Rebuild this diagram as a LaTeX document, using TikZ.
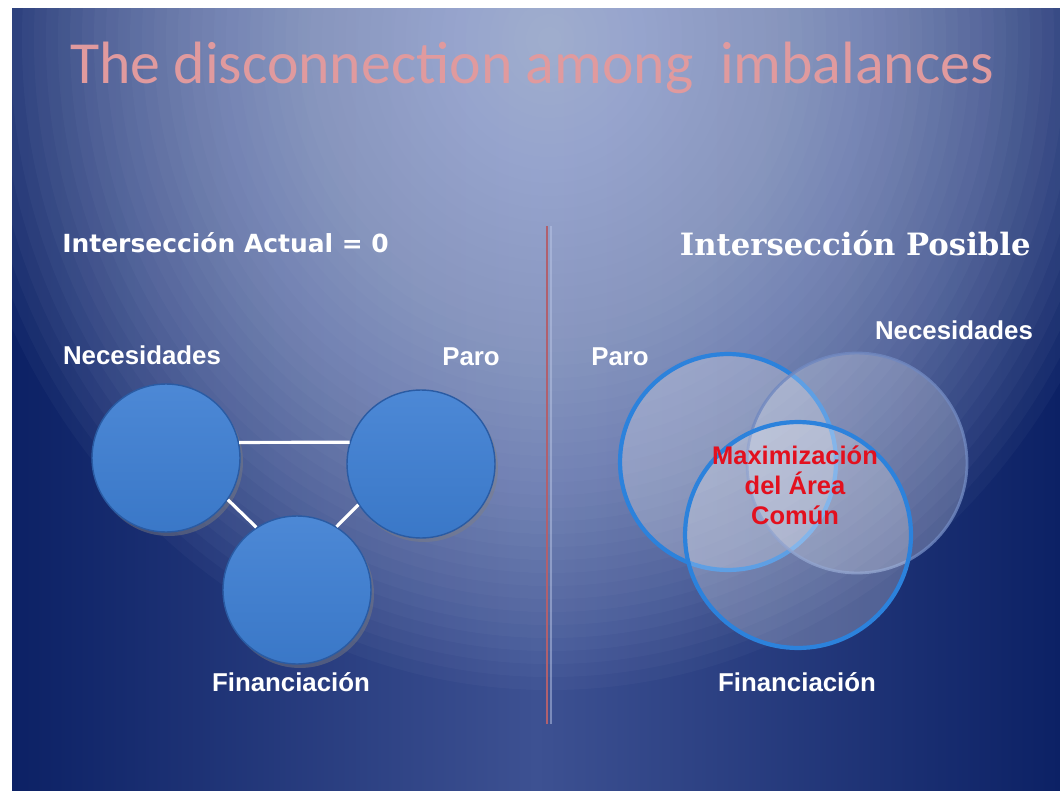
\documentclass[tikz,border=0pt]{standalone}
\usepackage{fontspec}
\setmainfont{Liberation Sans}
\newfontfamily\titlefont{Carlito}
\newfontfamily\headfont{DejaVu Sans}
\newfontfamily\slabfont{DejaVu Serif}
\usetikzlibrary{shadows}
\definecolor{bgdark}{HTML}{0C2165}
\definecolor{bgmid}{HTML}{3D5192}
\definecolor{bgglow}{HTML}{BAC6E6}
\definecolor{titlepink}{HTML}{E09A9E}
\definecolor{ballblue}{HTML}{3D7ED2}
\definecolor{ballrim}{HTML}{2A5BA3}
\definecolor{vennblue}{HTML}{2C82DC}
\definecolor{vennpale}{HTML}{7088C0}
\definecolor{divred}{HTML}{B0606E}
\definecolor{maxred}{HTML}{E3101E}
\begin{document}
\begin{tikzpicture}[x=0.02cm, y=-0.02cm,
		setlabel/.style = {text=white, font=\bfseries\fontsize{14.7}{16}\selectfont},
		ball/.style = {circle, minimum size=2.96cm, draw=ballrim, line width=0.8pt, top color=ballblue!92!white, bottom color=ballblue!95!black, drop shadow={shadow xshift=0.6mm, shadow yshift=-0.8mm, opacity=0.45}},
		link/.style = {white, line width=1.8pt},
		venn/.style = {circle, fill=white, fill opacity=0.24, line width=2.4pt}]
		\useasboundingbox (0,0) rectangle (1060,790);
		\fill[white] (0,0) rectangle (1060,790);
		\shade[left color=bgdark, right color=bgdark, middle color=bgmid] (12,9) rectangle (1060,790);
		\begin{scope}
			\clip (12,9) rectangle (1060,790);
			\foreach \r in {1,...,50}
				\fill[bgglow, opacity=0.04] (550,40) ellipse ({12*\r} and {13*\r});
		\end{scope}
		\node[font=\titlefont\fontsize{34}{40}\selectfont, text=titlepink] (title) at (532,68) {The disconnection among \ imbalances};
		\node[font=\headfont\bfseries\fontsize{14.2}{16}\selectfont, text=white, anchor=west, inner sep=0pt] (hactual) at (62,243) {Intersección Actual = 0};
		\node[font=\slabfont\bfseries\fontsize{17.5}{20}\selectfont, text=white, anchor=east, inner sep=0pt] (hposible) at (1031,243) {Intersección Posible};
		\coordinate (divtop) at (547,226);
		\coordinate (divbot) at (547,724);
		\draw[bgglow, opacity=0.5, line width=1.5pt] ([xshift=0.08cm]divtop) -- ([xshift=0.08cm]divbot);
		\draw[divred, line width=1.6pt] (divtop) -- (divbot);
		\node[ball] (nec) at (166,458) {};
		\node[ball] (paro) at (421,464) {};
		\node[ball] (fin) at (297,590) {};
		\draw[link] (nec.12) -- (paro.163);
		\draw[link] (nec.-34) -- (fin.123);
		\draw[link] (paro.213) -- (fin.58);
		\node[setlabel] (lnec) at (142,355) {Necesidades};
		\node[setlabel] (lparo) at (471,357) {Paro};
		\node[setlabel] (lfin) at (291,682) {Financiación};
		\node[venn, draw=vennblue, minimum size=4.32cm] (vparo) at (728,462) {};
		\node[venn, draw=vennpale, draw opacity=0.8, line width=1.6pt, minimum size=4.4cm] (vnec) at (857,463) {};
		\node[venn, draw=vennblue, minimum size=4.52cm] (vfin) at (798,535) {};
		\node[font=\bfseries\fontsize{14.5}{17}\selectfont, text=maxred, align=center] (maxarea) at (795,485) {Maximización\\del Área\\Común};
		\node[setlabel] (rparo) at (620,357) {Paro};
		\node[setlabel] (rnec) at (954,330) {Necesidades};
		\node[setlabel] (rfin) at (797,682) {Financiación};
	\end{tikzpicture}
\end{document}
